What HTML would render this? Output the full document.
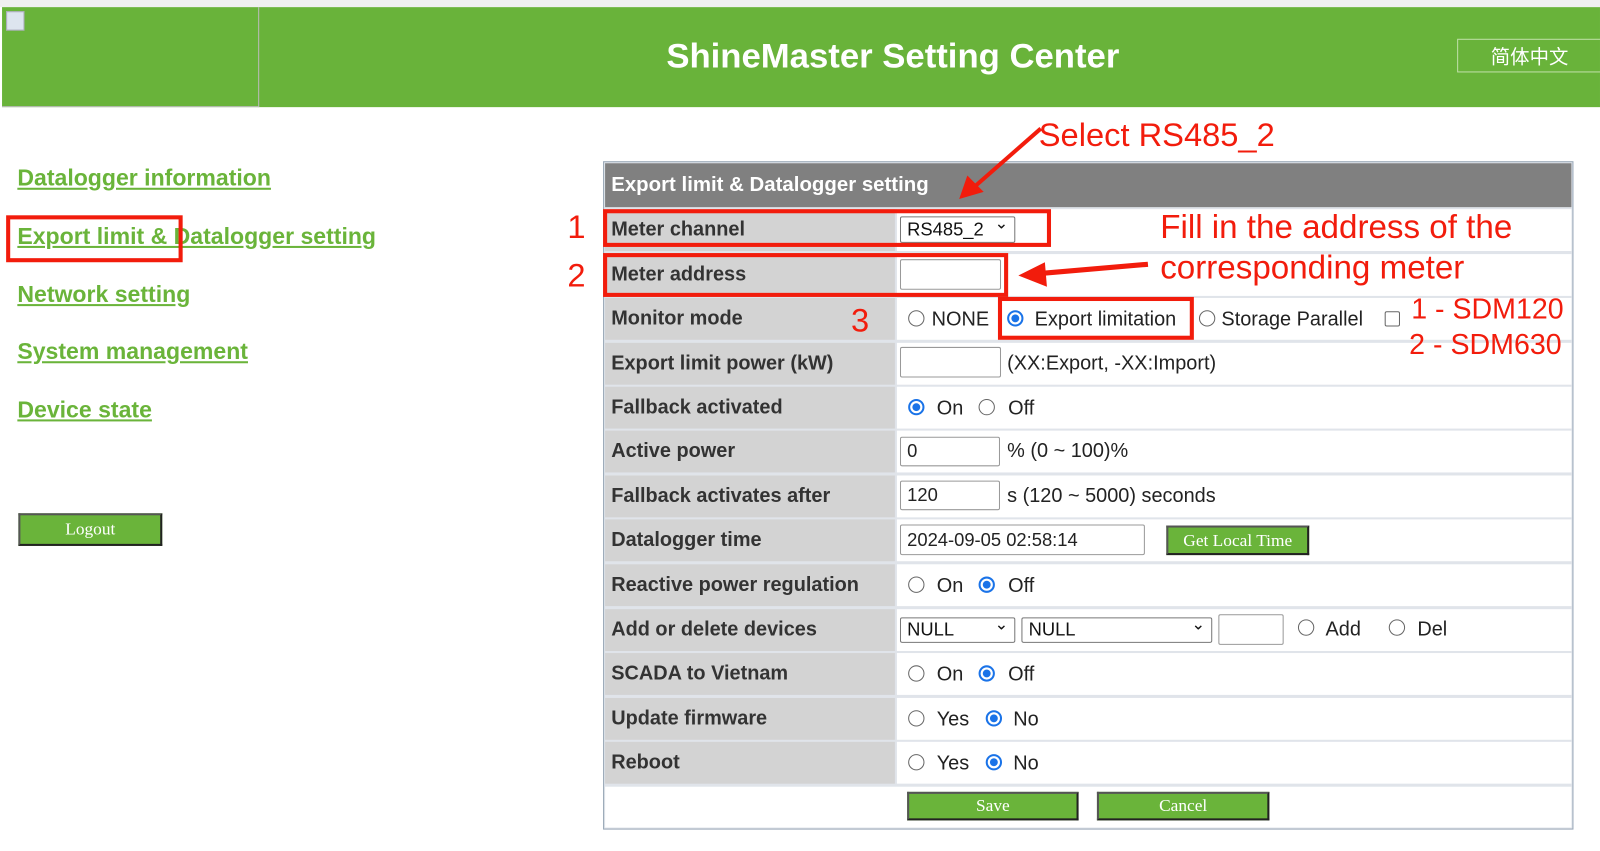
<!DOCTYPE html>
<html><head><meta charset="utf-8"><style>
*{box-sizing:border-box;margin:0;padding:0}
body{width:1600px;height:851px;overflow:hidden;background:#fff;font-family:"Liberation Sans",Arial,sans-serif}
#w{position:absolute;left:0;top:0;width:1568px;height:834px;transform:scale(1.0204);transform-origin:0 0}
.a{position:absolute}
.nav{position:absolute;left:17px;color:#6ab43a;font-weight:bold;font-size:22.6px;text-decoration:underline;white-space:nowrap}
.lab{position:absolute;left:593px;width:284px;background:#d3d3d3;color:#333;font-weight:bold;font-size:19.5px;padding-left:6px;display:flex;align-items:center}
.val{position:absolute;left:879px;width:661px;background:#fff;font-size:19.5px;color:#222;display:flex;align-items:center}
.t{position:absolute;font-size:19.5px;color:#222;white-space:nowrap}
.rb{position:absolute;width:16px;height:16px;border:1px solid #666;border-radius:50%;background:#fff}
.rb.on{border:2px solid #1a73e8;background:radial-gradient(#1a73e8 42%,#fff 48%)}
.inp{position:absolute;border:1px solid #999;border-radius:2px;background:#fff;font-size:18px;padding-left:6px;display:flex;align-items:center;color:#222}
.sel{position:absolute;border:1px solid #777;border-radius:2px;background:#fff;font-size:18px;padding-left:6px;display:flex;align-items:center;color:#111}
.sel::after{content:"⌄";position:absolute;right:6px;top:-4px;font-size:16px}
.gb{position:absolute;background:#6ab43a;color:#fff;font-family:"Liberation Serif",serif;font-size:17px;display:flex;align-items:center;justify-content:center;border:2px solid #222;border-left-color:#555;border-top-color:#555}
.red{position:absolute;border:4px solid #f21c0c}
.rt{position:absolute;color:#f21c0c;font-size:32px;white-space:nowrap}
</style></head><body><div id="w">
<div class="a" style="left:0;top:0;width:1568px;height:7px;background:#f0f0f0"></div>
<div class="a" style="left:2px;top:7px;width:1566px;height:98px;background:#69b33a"></div>
<div class="a" style="left:2px;top:7px;width:252px;height:98px;border:1px solid #bbb;border-left:0;border-top:0"></div>
<div class="a" style="left:6px;top:11px;width:18px;height:19px;background:#dde5ef;border:1px solid #aab"></div>
<div class="a" style="left:254px;top:36px;width:1242px;text-align:center;color:#fff;font-weight:bold;font-size:34px">ShineMaster Setting Center</div>
<div class="a" style="left:1428px;top:38px;width:142px;height:33px;border:1px solid #bfe0a8;color:#fff;font-size:19px;text-align:center;line-height:31px;font-family:'Noto Sans CJK SC',sans-serif">简体中文</div>

<div class="nav" style="top:162px">Datalogger information</div>
<div class="nav" style="top:219px">Export limit &amp; Datalogger setting</div>
<div class="nav" style="top:276px">Network setting</div>
<div class="nav" style="top:332px">System management</div>
<div class="nav" style="top:389px">Device state</div>
<div class="red" style="left:6px;top:211px;width:173px;height:46px"></div>
<div class="gb" style="left:18px;top:503px;width:141px;height:32px">Logout</div>

<div class="a" style="left:591px;top:158px;width:951px;height:655px;border:1px solid #9aa8b8;background:#e0e4ea"></div>
<div class="a" style="left:593px;top:160px;width:947px;height:43px;background:#808080;color:#fff;font-weight:bold;font-size:20px;padding:10px 0 0 6px">Export limit &amp; Datalogger setting</div>

<div class="lab" style="top:205px;height:41px">Meter channel</div><div class="val" style="top:205px;height:41px"></div>
<div class="lab" style="top:249px;height:41px">Meter address</div><div class="val" style="top:249px;height:41px"></div>
<div class="lab" style="top:292px;height:41px">Monitor mode</div><div class="val" style="top:292px;height:41px"></div>
<div class="lab" style="top:336px;height:41px">Export limit power (kW)</div><div class="val" style="top:336px;height:41px;padding-left:108px">(XX:Export, -XX:Import)</div>
<div class="lab" style="top:379px;height:41px">Fallback activated</div><div class="val" style="top:379px;height:41px"></div>
<div class="lab" style="top:422px;height:41px">Active power</div><div class="val" style="top:422px;height:41px;padding-left:108px">% (0 ~ 100)%</div>
<div class="lab" style="top:466px;height:41px">Fallback activates after</div><div class="val" style="top:466px;height:41px;padding-left:108px">s (120 ~ 5000) seconds</div>
<div class="lab" style="top:509px;height:41px">Datalogger time</div><div class="val" style="top:509px;height:41px"></div>
<div class="lab" style="top:553px;height:41px">Reactive power regulation</div><div class="val" style="top:553px;height:41px"></div>
<div class="lab" style="top:597px;height:41px">Add or delete devices</div><div class="val" style="top:597px;height:41px"></div>
<div class="lab" style="top:640px;height:41px">SCADA to Vietnam</div><div class="val" style="top:640px;height:41px"></div>
<div class="lab" style="top:684px;height:41px">Update firmware</div><div class="val" style="top:684px;height:41px"></div>
<div class="lab" style="top:727px;height:41px">Reboot</div><div class="val" style="top:727px;height:41px"></div>
<div class="a" style="left:593px;top:771px;width:947px;height:40px;background:#fff"></div>

<!-- Monitor mode -->
<span class="rb" style="left:890px;top:304px"></span><span class="t" style="left:913px;top:302px">NONE</span>
<span class="rb on" style="left:987px;top:304px"></span><span class="t" style="left:1014px;top:302px">Export limitation</span>
<span class="rb" style="left:1175px;top:304px"></span><span class="t" style="left:1197px;top:302px">Storage Parallel</span>
<span class="a" style="left:1357px;top:305px;width:15px;height:15px;border:1px solid #666;border-radius:2px"></span>
<!-- Fallback -->
<span class="rb on" style="left:890px;top:391px"></span><span class="t" style="left:918px;top:389px">On</span>
<span class="rb" style="left:959px;top:391px"></span><span class="t" style="left:988px;top:389px">Off</span>
<!-- Reactive -->
<span class="rb" style="left:890px;top:565px"></span><span class="t" style="left:918px;top:563px">On</span>
<span class="rb on" style="left:959px;top:565px"></span><span class="t" style="left:988px;top:563px">Off</span>
<!-- Add/Del -->
<span class="rb" style="left:1272px;top:607px"></span><span class="t" style="left:1299px;top:606px">Add</span>
<span class="rb" style="left:1361px;top:607px"></span><span class="t" style="left:1389px;top:606px">Del</span>
<!-- SCADA -->
<span class="rb" style="left:890px;top:652px"></span><span class="t" style="left:918px;top:650px">On</span>
<span class="rb on" style="left:959px;top:652px"></span><span class="t" style="left:988px;top:650px">Off</span>
<!-- Update -->
<span class="rb" style="left:890px;top:696px"></span><span class="t" style="left:918px;top:694px">Yes</span>
<span class="rb on" style="left:966px;top:696px"></span><span class="t" style="left:993px;top:694px">No</span>
<!-- Reboot -->
<span class="rb" style="left:890px;top:739px"></span><span class="t" style="left:918px;top:737px">Yes</span>
<span class="rb on" style="left:966px;top:739px"></span><span class="t" style="left:993px;top:737px">No</span>

<div class="sel" style="left:882px;top:212px;width:113px;height:26px">RS485_2</div>
<div class="inp" style="left:882px;top:254px;width:99px;height:30px"></div>
<div class="inp" style="left:882px;top:340px;width:99px;height:30px"></div>
<div class="inp" style="left:882px;top:428px;width:98px;height:29px">0</div>
<div class="inp" style="left:882px;top:471px;width:98px;height:29px">120</div>
<div class="inp" style="left:882px;top:514px;width:240px;height:30px">2024-09-05 02:58:14</div>
<div class="gb" style="left:1143px;top:515px;width:140px;height:29px">Get Local Time</div>
<div class="sel" style="left:882px;top:605px;width:113px;height:25px">NULL</div>
<div class="sel" style="left:1001px;top:605px;width:187px;height:25px">NULL</div>
<div class="inp" style="left:1194px;top:602px;width:64px;height:30px"></div>
<div class="gb" style="left:889px;top:776px;width:168px;height:28px">Save</div>
<div class="gb" style="left:1075px;top:776px;width:169px;height:28px">Cancel</div>

<div class="red" style="left:591px;top:205px;width:439px;height:37px"></div>
<div class="red" style="left:591px;top:248px;width:397px;height:43px"></div>
<div class="red" style="left:978px;top:291px;width:192px;height:42px"></div>
<div class="rt" style="left:1018px;top:114px">Select RS485_2</div>
<div class="rt" style="left:556px;top:204px">1</div>
<div class="rt" style="left:556px;top:252px">2</div>
<div class="rt" style="left:834px;top:296px">3</div>
<div class="rt" style="left:1137px;top:204px;font-size:32.5px">Fill in the address of the</div>
<div class="rt" style="left:1137px;top:244px;font-size:32.5px">corresponding meter</div>
<div class="rt" style="left:1383px;top:287px;font-size:28px">1 - SDM120</div>
<div class="rt" style="left:1381px;top:322px;font-size:28px">2 - SDM630</div>
<svg class="a" style="left:0;top:0" width="1568" height="834">
<line x1="1020" y1="126" x2="955" y2="183" stroke="#f21c0c" stroke-width="4"/>
<polygon points="940,195 948,172 964,188" fill="#f21c0c"/>
<line x1="1125" y1="259" x2="1020" y2="268" stroke="#f21c0c" stroke-width="5"/>
<polygon points="998,270 1024,257 1026,281" fill="#f21c0c"/>
</svg>
</div></body></html>
